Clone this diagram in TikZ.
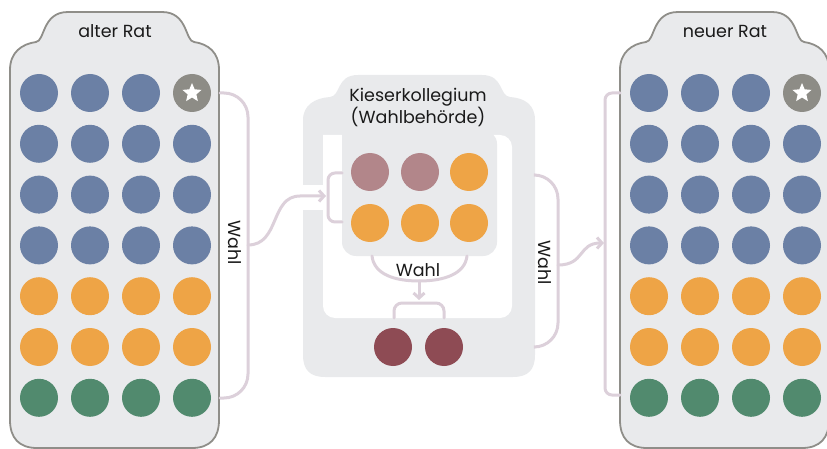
\documentclass[tikz,border=0pt]{standalone}
\usepackage{fontspec}
\setmainfont{Poppins}
\usetikzlibrary{arrows.meta,shapes.geometric}
\definecolor{cblue}{HTML}{6B80A5}
\definecolor{corange}{HTML}{EEA446}
\definecolor{cgreen}{HTML}{518A6E}
\definecolor{cmauve}{HTML}{B2868A}
\definecolor{cdark}{HTML}{8E4B54}
\definecolor{cstar}{HTML}{8D8C86}
\definecolor{panelfill}{HTML}{E9EAEC}
\definecolor{panelborder}{HTML}{8F8E89}
\definecolor{connc}{HTML}{DCD0DA}
\definecolor{textc}{HTML}{1A1A1A}
\begin{document}
\begin{tikzpicture}[x=1pt,y=-1pt,
  dot/.style={circle, minimum size=38pt, inner sep=0pt, draw=none},
  panel/.style={fill=panelfill, draw=panelborder, line width=1.8pt},
  conn/.style={draw=connc, line width=3pt, line cap=round},
  arr/.style={conn, -{Straight Barb[length=5pt, width=11pt]}},
  lbl/.style={font=\fontsize{17.5}{20}\selectfont, text=textc, inner sep=0pt},
  startip/.style={star, star points=5, star point ratio=2.2, fill=white, inner sep=0pt, minimum size=20pt}]
\useasboundingbox (0,0) rectangle (827,449);

% ---------- side panels ----------
\foreach \dx/\nm in {0/L, 610/R}{
  \begin{scope}[xshift=\dx pt]
    \draw[panel] (10,420) -- (10,70) .. controls (10,52) and (22,44) .. (36,42)
      .. controls (45,41) and (42,12) .. (68,12) -- (162,12)
      .. controls (188,12) and (185,41) .. (194,42)
      .. controls (208,44) and (219,52) .. (219,70) -- (219,420)
      .. controls (219,438) and (210,448) .. (192,448) -- (37,448)
      .. controls (19,448) and (10,438) .. (10,420) -- cycle;
  \end{scope}
}

% ---------- middle (Kieserkollegium) ----------
\fill[panelfill] (303,355) -- (303,120) .. controls (303,105) and (315,98) .. (330,97)
  .. controls (341,96) and (336,75) .. (358,75) -- (482,75)
  .. controls (504,75) and (499,96) .. (510,97)
  .. controls (525,98) and (535,105) .. (535,120) -- (535,355)
  .. controls (535,370) and (528,377) .. (513,377) -- (325,377)
  .. controls (310,377) and (303,370) .. (303,355) -- cycle;
\fill[white, rounded corners=12pt] (323,135) -- (323,318) -- (512,318) -- (512,135) [sharp corners] -- cycle;
\fill[panelfill, rounded corners=14pt] (342,130) -- (342,256) -- (497,256) -- (497,130) [sharp corners] -- cycle;
\fill[white] (300,185) rectangle (324,210);

% ---------- connectors ----------
\coordinate (lbt) at (220,93);
\coordinate (lbb) at (220,398);
\coordinate (lbm) at (248,245);
\coordinate (ktip) at (326,196);
\coordinate (kbt) at (342,173);
\coordinate (kbb) at (342,222);
\coordinate (mbt) at (535,175);
\coordinate (mbb) at (535,347);
\coordinate (mbm) at (558,265);
\coordinate (rtip) at (604,243);
\coordinate (rbt) at (620,93);
\coordinate (rbb) at (620,395);
\coordinate (ul) at (372,256);
\coordinate (ur) at (467,256);
\coordinate (um) at (419,281);
\coordinate (dtip) at (419,300);
\coordinate (bl) at (394,318);
\coordinate (br) at (444,318);

\draw[conn, rounded corners=24pt] (lbt) -| (lbm) |- (lbb);
\draw[arr] (lbm) .. controls (280,245) and (270,196) .. (300,196) -- (ktip);
\draw[conn, rounded corners=7pt] (kbt) -| (328,197) |- (kbb);

\draw[conn, rounded corners=24pt] (mbt) -| (mbm) |- (mbb);
\draw[arr] (mbm) .. controls (585,265) and (578,243) .. (rtip);
\draw[conn, rounded corners=7pt] (rbt) -| (605,245) |- (rbb);

\draw[conn] (ul) .. controls (374,274) and (394,281) .. (um) .. controls (444,281) and (465,274) .. (ur);
\draw[arr] (um) -- (dtip);
\draw[conn, rounded corners=8pt] (bl) |- (419,303) -| (br);

% ---------- circles in side panels ----------
\foreach \dx/\nm in {0/L, 610/R}{
  \foreach \c in {1,2,3}{
    \node[dot, fill=cblue] (\nm-1-\c) at ({\dx+39+51*(\c-1)},93) {};
  }
  \node[dot, fill=cstar] (\nm-1-4) at ({\dx+192},93) {};
  \node[startip] (\nm-star) at (\nm-1-4.center) {};
  \foreach \r/\col in {2/cblue,3/cblue,4/cblue,5/corange,6/corange,7/cgreen}{
    \foreach \c in {1,2,3,4}{
      \node[dot, fill=\col] (\nm-\r-\c) at ({\dx+39+51*(\c-1)},{93+50.8*(\r-1)}) {};
    }
  }
}

% ---------- circles in middle ----------
\node[dot, fill=cmauve]  (k11) at (370,172) {};
\node[dot, fill=cmauve]  (k12) at (420,172) {};
\node[dot, fill=corange] (k13) at (469,172) {};
\node[dot, fill=corange] (k21) at (370,223) {};
\node[dot, fill=corange] (k22) at (420,223) {};
\node[dot, fill=corange] (k23) at (469,223) {};
\node[dot, fill=cdark] (w1) at (393,347) {};
\node[dot, fill=cdark] (w2) at (444,347) {};

% ---------- labels ----------
\node[lbl, anchor=base] (tl) at (115,38) {alter Rat};
\node[lbl, anchor=base] (tr) at (725,38) {neuer Rat};
\node[lbl, anchor=base] (tk1) at (418,102) {Kieserkollegium};
\node[lbl, anchor=base] (tk2) at (418,124) {(Wahlbehörde)};
\node[lbl, anchor=base] (tw) at (418,276) {Wahl};
\node[lbl, rotate=-90] (twl) at (235,243) {Wahl};
\node[lbl, rotate=-90] (twr) at (545,263) {Wahl};
\end{tikzpicture}
\end{document}
